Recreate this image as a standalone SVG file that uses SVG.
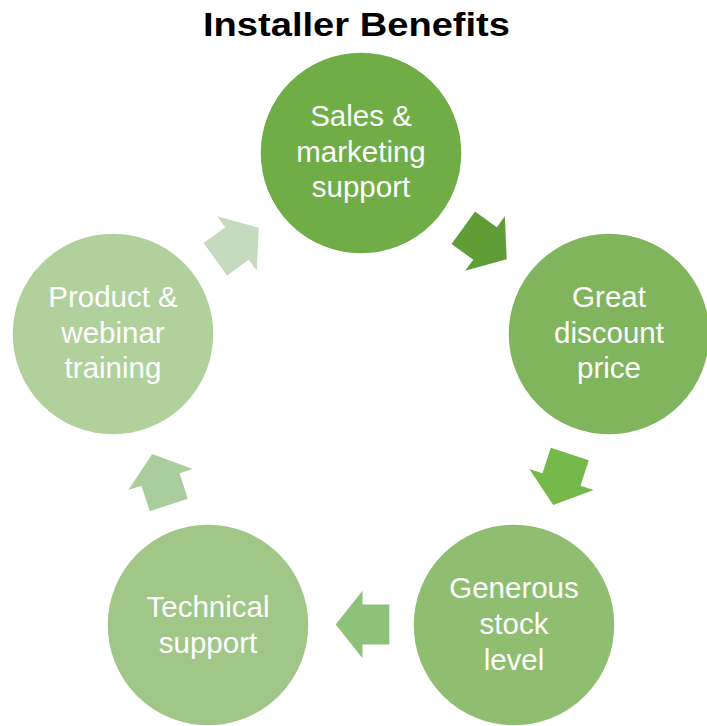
<svg xmlns="http://www.w3.org/2000/svg" width="707" height="726" viewBox="0 0 707 726">
<defs>
<style>
.node{stroke:#ffffff;stroke-width:1.5}
.lbl{font-family:"Liberation Sans",Arial,sans-serif;font-size:29.5px;fill:#ffffff;text-anchor:middle}
.title{font-family:"Liberation Sans",Arial,sans-serif;font-size:34px;font-weight:bold;fill:#000000;text-anchor:middle}
</style>
<path id="arr" d="M-26.8,-20 L0,-20 L0,-33.8 L26.8,0 L0,33.8 L0,20 L-26.8,20 Z"/>
</defs>
<rect width="707" height="726" fill="#ffffff"/>
<text class="title" x="356.5" y="36" textLength="307" lengthAdjust="spacingAndGlyphs">Installer Benefits</text>
<g id="connectors">
<use href="#arr" fill="#609D37" transform="translate(485,243.5) rotate(36)"/>
<use href="#arr" fill="#76B94B" transform="translate(561.5,479.5) rotate(108)"/>
<use href="#arr" fill="#8EC27A" transform="translate(362.5,624.5) rotate(180)"/>
<use href="#arr" fill="#A9CD9C" transform="translate(160.5,479.5) rotate(252)"/>
<use href="#arr" fill="#C6DBBE" transform="translate(237,243.5) rotate(-36)"/>
</g>
<g id="node-sales">
<circle class="node" cx="361" cy="153" r="101" fill="#70AD47"/>
<text class="lbl" x="361" y="126">Sales &amp;</text>
<text class="lbl" x="361" y="161.5">marketing</text>
<text class="lbl" x="361" y="197">support</text>
</g>
<g id="node-discount">
<circle class="node" cx="609" cy="334" r="101" fill="#80B55E"/>
<text class="lbl" x="609" y="307">Great</text>
<text class="lbl" x="609" y="342.5">discount</text>
<text class="lbl" x="609" y="378">price</text>
</g>
<g id="node-stock">
<circle class="node" cx="514" cy="625" r="101" fill="#8FBE70"/>
<text class="lbl" x="514" y="597.5">Generous</text>
<text class="lbl" x="514" y="633.5">stock</text>
<text class="lbl" x="514" y="669.5">level</text>
</g>
<g id="node-technical">
<circle class="node" cx="208" cy="625" r="101" fill="#A0C788"/>
<text class="lbl" x="208" y="617">Technical</text>
<text class="lbl" x="208" y="652.5">support</text>
</g>
<g id="node-training">
<circle class="node" cx="113" cy="334" r="101" fill="#B1D19C"/>
<text class="lbl" x="113" y="307">Product &amp;</text>
<text class="lbl" x="113" y="343">webinar</text>
<text class="lbl" x="113" y="378">training</text>
</g>
</svg>
